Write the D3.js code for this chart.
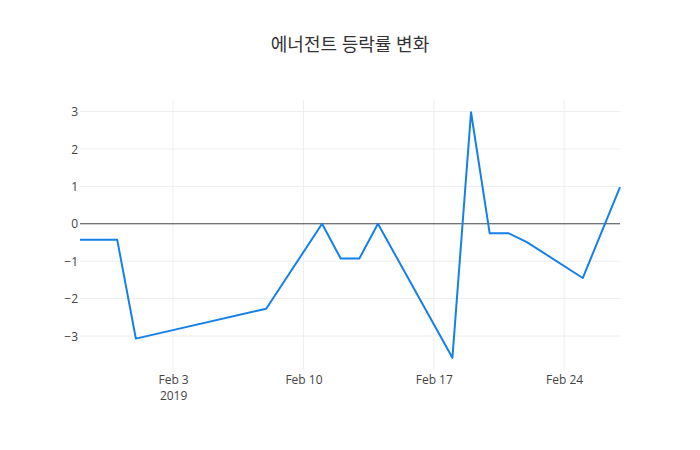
<!DOCTYPE html>
<html><head><meta charset="utf-8">
<script src="https://cdn.jsdelivr.net/npm/d3@7"></script>
<style>body{margin:0;background:#fff}svg{display:block}</style>
</head><body><svg id="c" width="700" height="450"></svg>
<script>
const dates = ["2019-01-29","2019-01-31","2019-02-01","2019-02-08","2019-02-11","2019-02-12","2019-02-13","2019-02-14","2019-02-18","2019-02-19","2019-02-20","2019-02-21","2019-02-22","2019-02-25","2019-02-27"];
const values = [-0.43,-0.43,-3.07,-2.27,0,-0.93,-0.93,0,-3.58,2.98,-0.25,-0.25,-0.49,-1.45,0.98];
const xTicks = ["2019-02-03","2019-02-10","2019-02-17","2019-02-24"];
const yTicks = [-3,-2,-1,0,1,2,3];
const title = "에너전트 등락률 변화";

const font = "'Open Sans', 'Noto Sans CJK KR', sans-serif";
const svg = d3.select("#c");
const m = {l:80, r:80, t:100, b:80}, W = 700, H = 450;
const parse = d3.utcParse("%Y-%m-%d");
const data = dates.map((d,i)=>({x:parse(d), y:values[i]}));

const x = d3.scaleUtc().domain(d3.extent(data, d=>d.x)).range([m.l, W-m.r]);
const ymin = d3.min(values), ymax = d3.max(values), pad = (ymax-ymin)*0.05;
const y = d3.scaleLinear().domain([ymin-pad, ymax+pad]).range([H-m.b, m.t]);

// gridlines
const g = svg.append("g");
g.selectAll(".vg").data(xTicks.map(parse)).join("line")
  .attr("x1", d=>x(d)).attr("x2", d=>x(d)).attr("y1", m.t).attr("y2", H-m.b)
  .attr("stroke", "#eee").attr("stroke-width", 1);
g.selectAll(".hg").data(yTicks.filter(v=>v!==0)).join("line")
  .attr("x1", m.l).attr("x2", W-m.r).attr("y1", d=>y(d)).attr("y2", d=>y(d))
  .attr("stroke", "#eee").attr("stroke-width", 1);
// zero line
g.append("line").attr("x1", m.l).attr("x2", W-m.r).attr("y1", y(0)).attr("y2", y(0))
  .attr("stroke", "#444").attr("stroke-width", 1);

// y axis labels
const yAxis = d3.axisLeft(y).tickValues(yTicks).tickSize(0).tickPadding(0)
  .tickFormat(d => d < 0 ? "\u2212" + Math.abs(d) : String(d));
const ya = svg.append("g").attr("transform", `translate(${m.l-2},0)`).call(yAxis);
ya.select(".domain").remove();
ya.selectAll("text").attr("font-family", font).attr("font-size", 12).attr("fill", "#444").attr("dy", "0.35em");

// x axis labels
const xAxis = d3.axisBottom(x).tickValues(xTicks.map(parse)).tickSize(0).tickPadding(0)
  .tickFormat(d => "");
const xa = svg.append("g").attr("transform", `translate(0,${H-m.b})`).call(xAxis);
xa.select(".domain").remove();
xa.selectAll(".tick text").each(function(d, i){
  const t = d3.select(this).attr("font-family", font).attr("font-size", 12).attr("fill", "#444").attr("y", 0).attr("dy", null);
  t.append("tspan").attr("x", 0).attr("y", 14).text(d3.utcFormat("%b %-d")(d));
  if (i === 0) t.append("tspan").attr("x", 0).attr("y", 30).text(d3.utcFormat("%Y")(d));
});

// line
svg.append("path").datum(data)
  .attr("fill", "none").attr("stroke", "#1580ea").attr("stroke-width", 2)
  .attr("stroke-linejoin", "round")
  .attr("d", d3.line().x(d=>x(d.x)).y(d=>y(d.y)));

// title
svg.append("text").attr("x", W/2).attr("y", 51).attr("text-anchor", "middle")
  .attr("font-family", font).attr("font-size", 18).attr("fill", "#333").text(title);
</script></body></html>
